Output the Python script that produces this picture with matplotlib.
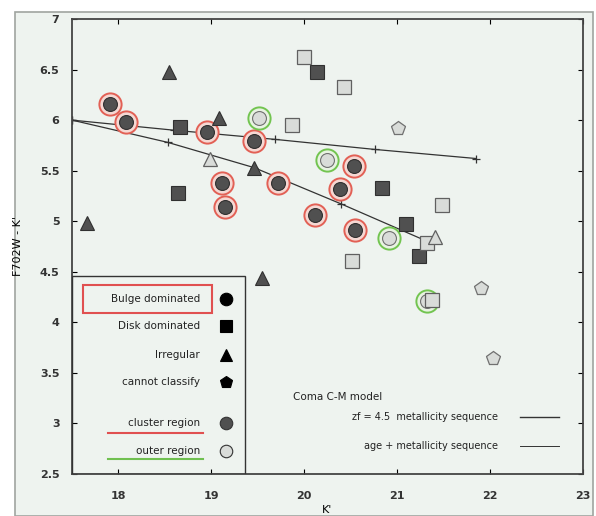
import numpy as np
import matplotlib.pyplot as plt
from matplotlib.patches import Rectangle

# bulge dominated, cluster region (red rings)
bulge_cl_x = [17.91, 18.08, 18.95, 19.46, 19.11, 19.15, 19.72, 20.54, 20.38, 20.12, 20.55]
bulge_cl_y = [6.16, 5.98, 5.88, 5.79, 5.38, 5.14, 5.38, 5.55, 5.32, 5.06, 4.91]
# bulge dominated, outer region (green rings)
bulge_out_x = [19.51, 20.25, 20.91, 21.32]
bulge_out_y = [6.02, 5.61, 4.83, 4.21]
# disk dominated
disk_cl_x = [18.66, 18.64, 20.14, 20.84, 21.10, 21.23]
disk_cl_y = [5.93, 5.28, 6.48, 5.33, 4.97, 4.66]
disk_out_x = [20.00, 20.43, 19.87, 21.48, 21.32, 20.51, 21.37]
disk_out_y = [6.62, 6.33, 5.95, 5.16, 4.78, 4.61, 4.22]
# irregular
irr_cl_x = [18.54, 19.08, 17.66, 19.46, 19.54]
irr_cl_y = [6.48, 6.02, 4.98, 5.53, 4.44]
irr_out_x = [18.99, 21.41]
irr_out_y = [5.62, 4.84]
# cannot classify
unc_out_x = [21.01, 21.90, 22.03]
unc_out_y = [5.92, 4.34, 3.65]

# Coma C-M model sequences
zf_x = [17.5, 18.6, 19.68, 20.76, 21.85]
zf_y = [6.00, 5.90, 5.81, 5.71, 5.62]
age_x = [17.5, 18.53, 19.46, 20.40, 21.30]
age_y = [6.00, 5.78, 5.53, 5.17, 4.81]

legend_labels = ["Bulge dominated", "Disk dominated", "Irregular", "cannot classify",
                 "cluster region", "outer region"]
legend_y = [4.23, 3.96, 3.68, 3.41, 3.00, 2.73]

bg = "#eef3ef"
dark = "#505050"
light = "#d9dcd9"

fig = plt.figure(figsize=(5.96, 5.16), dpi=100, facecolor="white")
fig.patches.append(Rectangle((15/596, 0), 578/596, 1 - 12/516, transform=fig.transFigure,
                             facecolor=bg, edgecolor="#a0a4a0", lw=1.2, zorder=-10))
ax = fig.add_axes([72/596, 1 - 474/516, 511/596, 455/516])
ax.set_facecolor(bg)
ax.set_xlim(17.5, 23)
ax.set_ylim(2.5, 7)

ax.plot(zf_x, zf_y, color="#333333", lw=0.9, marker="+", ms=6, mew=0.9, zorder=2)
ax.plot(age_x, age_y, color="#333333", lw=0.9, marker="+", ms=6, mew=0.9, zorder=2)

# rings
ax.plot(bulge_cl_x, bulge_cl_y, "o", ms=16, mfc="#f5d8d3", mec="#e26055", mew=1.4, zorder=3)
ax.plot(bulge_out_x, bulge_out_y, "o", ms=16, mfc="#e8f3e2", mec="#72c450", mew=1.4, zorder=3)

ax.plot(bulge_cl_x, bulge_cl_y, "o", ms=10, mfc=dark, mec="#303030", mew=0.8, zorder=4)
ax.plot(bulge_out_x, bulge_out_y, "o", ms=10, mfc=light, mec="#707070", mew=0.8, zorder=4)
ax.plot(disk_cl_x, disk_cl_y, "s", ms=9.5, mfc=dark, mec="#303030", mew=0.8, zorder=4)
ax.plot(disk_out_x, disk_out_y, "s", ms=9.5, mfc=light, mec="#606060", mew=0.9, zorder=4)
ax.plot(irr_cl_x, irr_cl_y, "^", ms=9.5, mfc=dark, mec="#303030", mew=0.8, zorder=4)
ax.plot(irr_out_x, irr_out_y, "^", ms=9.5, mfc=light, mec="#606060", mew=0.9, zorder=4)
ax.plot(unc_out_x, unc_out_y, "p", ms=10, mfc=light, mec="#707070", mew=0.9, zorder=4)

# legend box
ax.add_patch(Rectangle((17.5, 2.5), 1.86, 1.96, facecolor="none", edgecolor="#333333", lw=1.0, zorder=5))
leg_markers = [("o", "black"), ("s", "black"), ("^", "black"), ("p", "black"), ("o", dark), ("o", light)]
for lab, yy, (m, c) in zip(legend_labels, legend_y, leg_markers):
    ax.text(18.88, yy, lab, ha="right", va="center", fontsize=7.5, color="#222222", zorder=6)
    ax.plot([19.16], [yy], m, ms=9, mfc=c, mec="#333333" if c != "black" else "black", mew=0.8, zorder=6)
ax.add_patch(Rectangle((17.62, 4.09), 1.39, 0.28, facecolor="none", edgecolor="#e05050", lw=1.5, zorder=6))
ax.plot([17.89, 18.91], [2.91, 2.91], color="#e05050", lw=1.5, zorder=6)
ax.plot([17.89, 18.91], [2.65, 2.65], color="#70c050", lw=1.5, zorder=6)

# model legend
ax.text(19.88, 3.26, "Coma C-M model", ha="left", va="center", fontsize=7.5, color="#222222")
ax.text(22.09, 3.06, "zf = 4.5  metallicity sequence", ha="right", va="center", fontsize=7, color="#222222")
ax.text(22.09, 2.78, "age + metallicity sequence", ha="right", va="center", fontsize=7, color="#222222")
ax.plot([22.32, 22.74], [3.06, 3.06], color="#333333", lw=1.0)
ax.plot([22.32, 22.74], [2.78, 2.78], color="#333333", lw=0.7)

ax.set_xticks([18, 19, 20, 21, 22, 23])
ax.set_xticklabels(["18", "19", "20", "21", "22", "23"])
ax.set_yticks(np.arange(2.5, 7.01, 0.5))
ax.set_yticklabels(["2.5", "3", "3.5", "4", "4.5", "5", "5.5", "6", "6.5", "7"])
ax.tick_params(direction="in", top=True, right=True, length=3.5, width=0.8, labelsize=8)
ax.tick_params(axis="x", pad=12)
ax.tick_params(axis="y", pad=9)
for lab in ax.get_xticklabels() + ax.get_yticklabels():
    lab.set_fontweight("bold")
    lab.set_color("#333333")
for s in ax.spines.values():
    s.set_color("#444444")
    s.set_linewidth(1.3)

ax.set_xlabel("K'", fontsize=8, labelpad=3)
ax.set_ylabel("F702W - K'", fontsize=8, labelpad=12)

fig.savefig("out.png", dpi=100, facecolor="white")
